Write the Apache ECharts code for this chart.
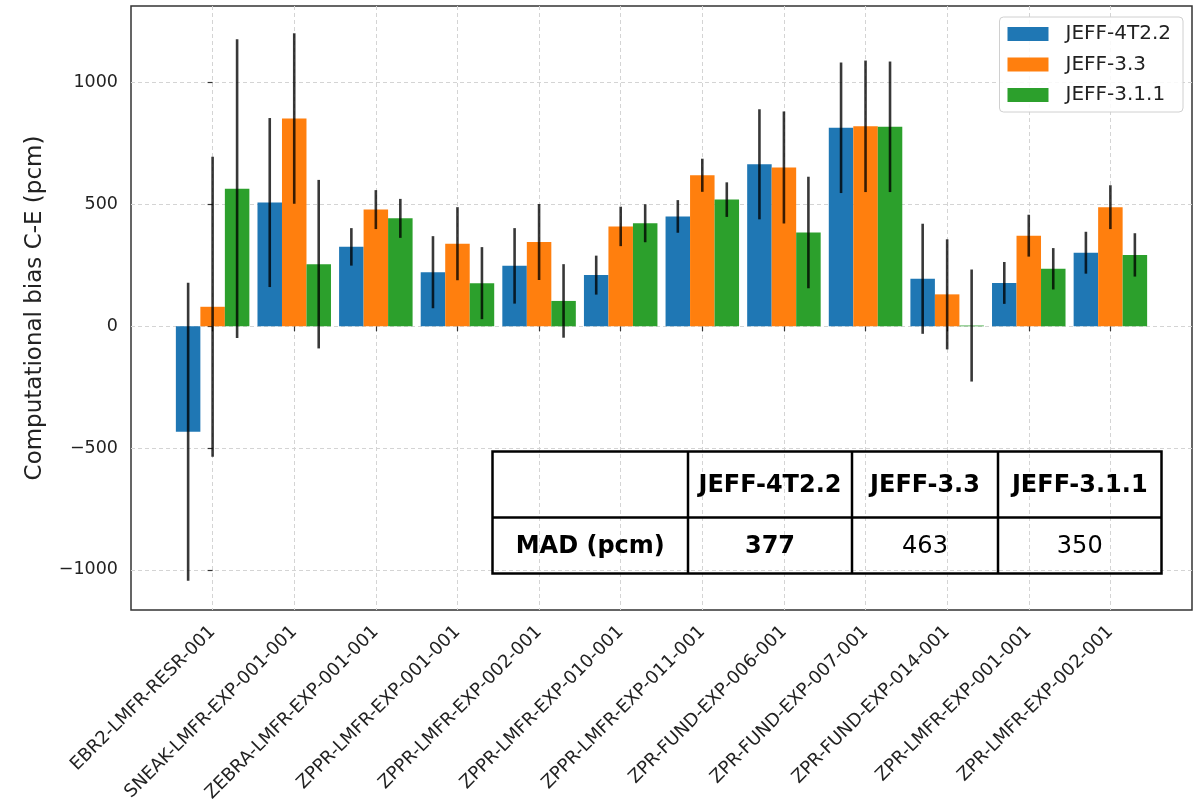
<!DOCTYPE html>
<html><head><meta charset="utf-8">
<script src="https://cdn.jsdelivr.net/npm/echarts@6/dist/echarts.min.js"></script>
<style>html,body{margin:0;padding:0;background:#fff}#c{width:1199px;height:808px}</style>
</head><body><div id="c"></div>
<script>
const categories = ['EBR2-LMFR-RESR-001','SNEAK-LMFR-EXP-001-001','ZEBRA-LMFR-EXP-001-001','ZPPR-LMFR-EXP-001-001','ZPPR-LMFR-EXP-002-001','ZPPR-LMFR-EXP-010-001','ZPPR-LMFR-EXP-011-001','ZPR-FUND-EXP-006-001','ZPR-FUND-EXP-007-001','ZPR-FUND-EXP-014-001','ZPR-LMFR-EXP-001-001','ZPR-LMFR-EXP-002-001'];
const seriesNames = ['JEFF-4T2.2','JEFF-3.3','JEFF-3.1.1'];
const jeff4t22    = [-433, 508, 326, 222, 248, 210, 451, 665, 815, 195, 178, 302];
const jeff4t22Err = [ 612, 347,  77, 148, 155,  80,  67, 226, 268, 226,  86,  86];
const jeff33      = [  80, 853, 479, 339, 346, 410, 620, 652, 821, 131, 372, 489];
const jeff33Err   = [ 616, 350,  80, 150, 156,  81,  68, 230, 270, 226,  86,  90];
const jeff311     = [ 565, 255, 443, 177, 104, 423, 520, 385, 819,   3, 236, 293];
const jeff311Err  = [ 613, 346,  80, 148, 151,  78,  71, 229, 268, 230,  85,  89];
const yTicks = [-1000, -500, 0, 500, 1000];
const madHeader = ['JEFF-4T2.2','JEFF-3.3','JEFF-3.1.1'];
const madRowLabel = 'MAD (pcm)';
const madValues = [377, 463, 350];

const colors = ['#1f77b4','#ff7f0e','#2ca02c'];
const values = [jeff4t22, jeff33, jeff311];
const errors = [jeff4t22Err, jeff33Err, jeff311Err];
const catIdx = categories.map((_, i) => i);
const FONT = 'DejaVu Sans';
const BAR_UNITS = 0.3;

const chart = echarts.init(document.getElementById('c'), null, {renderer: 'canvas'});

const barSeries = seriesNames.map((name, s) => ({
  name: name, type: 'bar', z: 2,
  data: values[s].map((v, i) => [i, v]),
  barWidth: 24.5, barGap: '0%',
  itemStyle: {color: colors[s]},
  emphasis: {disabled: true}
}));
const errSeries = seriesNames.map((name, s) => ({
  name: name + ' err', type: 'custom', z: 3,
  data: values[s].map((v, i) => [i, v - errors[s][i], v + errors[s][i]]),
  encode: {x: 0, y: [1, 2]},
  renderItem: function (params, api) {
    const x = api.value(0);
    const lo = api.coord([x, api.value(1)]);
    const hi = api.coord([x, api.value(2)]);
    const dx = (s - 1) * api.size([BAR_UNITS, 0])[0];
    return {type: 'line', shape: {x1: lo[0] + dx, y1: lo[1], x2: hi[0] + dx, y2: hi[1]},
            style: {stroke: 'rgba(0,0,0,0.78)', lineWidth: 2.6}};
  }
}));

// table graphic
const tb = {cols: [492.5, 688, 852, 998, 1161.5], rows: [451.5, 517.5, 573.5]};
const g = [];
g.push({type: 'rect', z: 10, shape: {x: tb.cols[0], y: tb.rows[0], width: tb.cols[4] - tb.cols[0], height: tb.rows[2] - tb.rows[0]},
        style: {fill: 'none', stroke: '#000', lineWidth: 2.5}});
g.push({type: 'line', z: 10, shape: {x1: tb.cols[0], y1: tb.rows[1], x2: tb.cols[4], y2: tb.rows[1]}, style: {stroke: '#000', lineWidth: 2.5}});
for (let c = 1; c < 4; c++) {
  g.push({type: 'line', z: 10, shape: {x1: tb.cols[c], y1: tb.rows[0], x2: tb.cols[c], y2: tb.rows[2]}, style: {stroke: '#000', lineWidth: 2.5}});
}
function cellText(txt, c, r, bold) {
  return {type: 'text', z: 11, x: (tb.cols[c] + tb.cols[c + 1]) / 2, y: (tb.rows[r] + tb.rows[r + 1]) / 2 + 1,
          style: {text: txt, fontSize: 24, fontWeight: bold ? 'bold' : 'normal', fontFamily: FONT, fill: '#000',
                  align: 'center', verticalAlign: 'middle', textAlign: 'center', textVerticalAlign: 'middle'}};
}
madHeader.forEach((h, i) => g.push(cellText(h, i + 1, 0, true)));
g.push(cellText(madRowLabel, 0, 1, true));
madValues.forEach((v, i) => g.push(cellText(String(v), i + 1, 1, i === 0)));

const option = {
  animation: false,
  backgroundColor: '#fff',
  textStyle: {fontFamily: FONT},
  grid: {left: 131, right: 7, top: 6, bottom: 198, show: true, borderColor: '#333', borderWidth: 1.5, backgroundColor: 'transparent', containLabel: false},
  legend: {
    data: seriesNames.map(n => ({name: n, icon: 'rect'})), orient: 'vertical', right: 16, top: 17, align: 'left',
    itemWidth: 41, itemHeight: 14, itemGap: 8.5,
    padding: [6, 12, 6, 8],
    backgroundColor: 'rgba(255,255,255,0.85)', borderColor: '#d0d0d0', borderWidth: 1, borderRadius: 4,
    textStyle: {fontSize: 20, fontFamily: FONT, color: '#222', lineHeight: 22, padding: [0, 0, 0, 12]},
    selectedMode: false, z: 8
  },
  xAxis: {
    type: 'value', min: -1, max: 12, interval: 1,
    axisLine: {show: false},
    axisTick: {show: true, length: 5, customValues: catIdx, lineStyle: {color: '#333', width: 1.2}},
    axisLabel: {customValues: catIdx, formatter: v => categories[v] || '', rotate: 45, fontSize: 18, color: '#222', fontFamily: FONT, margin: 19},
    splitLine: {show: true, lineStyle: {color: '#d4d4d4', type: [4, 3], width: 1}}
  },
  yAxis: {
    type: 'value', min: -1165, max: 1315,
    name: 'Computational bias C-E (pcm)', nameLocation: 'middle', nameGap: 84,
    nameTextStyle: {fontSize: 23, color: '#222', fontFamily: FONT},
    axisLine: {show: false},
    axisTick: {show: true, length: 5, customValues: yTicks, lineStyle: {color: '#333', width: 1.2}},
    axisLabel: {customValues: yTicks, formatter: v => (v < 0 ? '\u2212' + Math.abs(v) : String(v)), fontSize: 17.5, color: '#222', fontFamily: FONT, margin: 13},
    splitLine: {show: true, lineStyle: {color: '#d4d4d4', type: [4, 3], width: 1}}
  },
  series: barSeries.concat(errSeries),
  graphic: g
};
chart.setOption(option);
</script>
</body></html>
